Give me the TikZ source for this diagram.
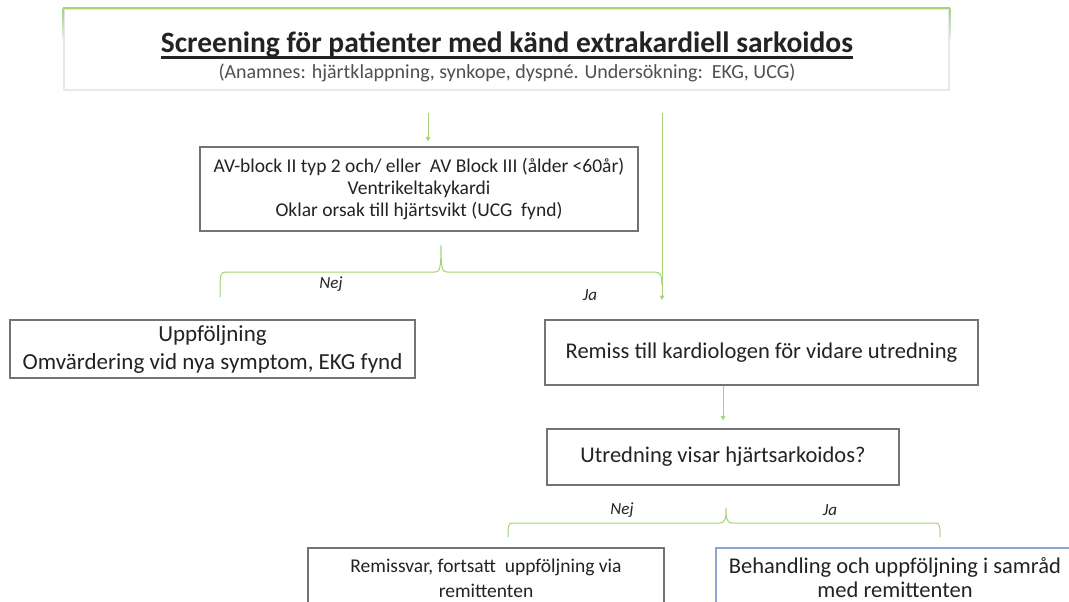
\documentclass[tikz,border=0pt]{standalone}
\usepackage{fontspec}
\setmainfont{Carlito}
\usetikzlibrary{arrows.meta}
\definecolor{lgreen}{RGB}{160,214,118}
\definecolor{boxgray}{RGB}{115,115,115}
\definecolor{txt}{RGB}{35,35,35}
\definecolor{subg}{RGB}{80,80,80}
\definecolor{bblue}{RGB}{140,165,215}
\definecolor{faint}{RGB}{232,232,232}
\begin{document}
\begin{tikzpicture}[x=1pt,y=-1pt,
  box/.style={draw=boxgray, line width=1.1pt, align=center, inner sep=0pt, text=txt},
  conn/.style={draw=lgreen, line width=1pt},
  arr/.style={conn, -{Triangle[width=4.5pt,length=4.5pt]}},
  fade/.style={top color=lgreen, bottom color=faint, draw=none},
  lab/.style={font=\fontsize{17}{18}\selectfont\itshape, text=txt, inner sep=0pt}]
\useasboundingbox (0,0) rectangle (1069,602);
\clip (0,0) rectangle (1069,602);
\fill[white] (0,0) rectangle (1069,602);

% top box
\node[draw=faint, line width=1.5pt, minimum width=885pt, minimum height=81pt, inner sep=0pt] (top) at (506.5,49.5) {};
\shade[fade] ([xshift=-0.75pt]top.north west) rectangle ([xshift=0.75pt,yshift=-30pt]top.north west);
\shade[fade] ([xshift=-0.75pt]top.north east) rectangle ([xshift=0.75pt,yshift=-30pt]top.north east);
\draw[lgreen, line width=1.5pt] (top.north west) -- (top.north east);
\node[anchor=base, inner sep=0pt, font=\fontsize{29.5}{32}\selectfont\bfseries, text=txt] (title) at (507,53) {Screening för patienter med känd extrakardiell sarkoidos};
\draw[line width=2.2pt, txt] ([yshift=-4.5pt]title.base west) -- ([yshift=-4.5pt]title.base east);
\node[anchor=base, inner sep=0pt, font=\fontsize{20}{22}\selectfont, text=subg] (sub) at (507,79) {(Anamnes: hjärtklappning, synkope, dyspné. Undersökning:\ \ EKG, UCG)};

% AV box
\node[box, minimum width=438pt, minimum height=84pt, font=\fontsize{19.5}{22}\selectfont] (av) at (419,189)
  {AV-block II typ 2 och/ eller\ \ AV Block III (ålder <60år)\\Ventrikeltakykardi\\Oklar orsak till hjärtsvikt (UCG\ \ fynd)};

\coordinate (a1s) at (428,113);
\draw[arr, shorten >=5pt] (a1s) -- (av.north -| a1s);
\coordinate (a2s) at (662,113);
\coordinate (a2e) at (662,300);
\draw[arr] (a2s) -- (a2e);

% brace 1
\coordinate (b1l) at (220,297);
\coordinate (b1p) at (441,245);
\draw[conn] (b1l) .. controls (220,275) and (220,272) .. (226,272) -- (435,272)
  .. controls (440,272) and (441,268) .. (b1p)
  .. controls (441,268) and (442,272) .. (447,272) -- (655,272)
  .. controls (660,272) and (662,275) .. (662,285);

\node[lab] (nej1) at (331,284) {Nej};
\node[lab] (ja1) at (590,295) {Ja};

% second row
\node[box, minimum width=405pt, minimum height=58pt, font=\fontsize{23}{28}\selectfont] (upp) at (212.5,349)
  {Uppföljning\\Omvärdering vid nya symptom, EKG fynd};
\node[box, minimum width=433pt, minimum height=65pt, font=\fontsize{22.5}{24}\selectfont] (rem) at (761.5,352.5)
  {Remiss till kardiologen för vidare utredning};

\node[box, minimum width=352pt, minimum height=56pt, font=\fontsize{22.5}{24}\selectfont] (utr) at (723,457)
  {Utredning visar hjärtsarkoidos?};
\draw[arr, shorten >=8pt] (rem.south -| utr.north) -- (utr.north);

% brace 2
\coordinate (b2l) at (508,537);
\coordinate (b2p) at (726,508);
\coordinate (b2r) at (940,537);
\draw[conn] (b2l) .. controls (508,526) and (508,523) .. (513,523) -- (720,523)
  .. controls (725,523) and (726,519) .. (b2p)
  .. controls (726,519) and (727,523) .. (732,523) -- (935,523)
  .. controls (940,523) and (940,526) .. (b2r);
\node[lab] (nej2) at (622,510) {Nej};
\node[lab] (ja2) at (830,510) {Ja};

% bottom row
\node[box, minimum width=356pt, minimum height=60pt, font=\fontsize{19.5}{25}\selectfont] (rsv) at (486,578)
  {Remissvar, fortsatt\ \ uppföljning via\\remittenten};
\node[box, draw=bblue, minimum width=358pt, minimum height=60pt, font=\fontsize{22.5}{24}\selectfont] (beh) at (895,578)
  {Behandling och uppföljning i samråd\\med remittenten};
\end{tikzpicture}
\end{document}
